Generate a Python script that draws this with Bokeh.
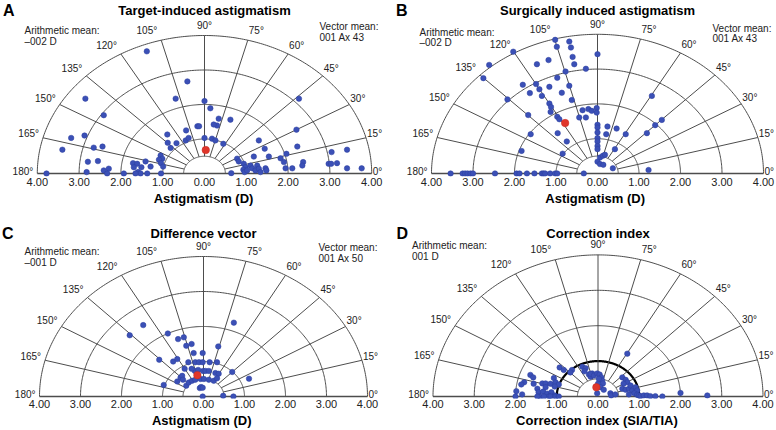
import numpy as np
from bokeh.plotting import figure
from bokeh.models import Range1d, FixedTicker, Label, LabelSet, ColumnDataSource
from bokeh.layouts import column, row
from bokeh.embed import file_html
from bokeh.resources import INLINE

# ---------------- data (astigmatism components, D) ----------------
tick_values = [-4, -3, -2, -1, 0, 1, 2, 3, 4]
tick_labels = ["4.00", "3.00", "2.00", "1.00", "0.00", "1.00", "2.00", "3.00", "4.00"]
angle_values = [0, 15, 30, 45, 60, 75, 90, 105, 120, 135, 150, 165, 180]
ring_radii = [0.5, 1, 2, 3, 4]

a_points = [(-1.38,3.54),(-0.41,2.67),(-0.69,2.17),(0.0,2.10),(-2.85,2.17),(-2.41,1.69),(-3.19,1.03),
    (-2.87,1.10),(-3.40,0.69),(-2.65,0.75),(-2.44,0.78),(-2.79,0.34),(-2.55,0.36),(-2.82,0.04),(-2.41,0.09),
    (-2.29,0.14),(-2.33,0.0),(-1.93,0.0),(-1.71,0.30),(-1.61,0.28),(-1.69,0.18),(-1.51,0.18),(-1.41,0.35),
    (-1.29,0.20),(-1.59,0.04),(-1.53,0.0),(-1.65,0.0),(-1.37,0.0),(-1.05,0.52),(-1.01,0.43),(-1.09,0.40),
    (-1.04,0.30),(-0.99,0.20),(-1.04,0.0),(-0.89,1.13),(-0.88,0.89),(-0.81,0.74),(-0.67,0.88),(-0.44,1.25),
    (-0.45,0.96),(-0.38,1.03),(-0.17,1.37),(-0.13,1.37),(0.0,1.03),(0.14,1.89),(0.34,1.59),(0.62,1.56),
    (0.30,1.39),(0.18,1.01),(0.26,0.96),(0.45,0.86),(2.26,2.17),(2.20,1.27),(1.30,0.96),(2.22,0.78),
    (1.96,0.57),(1.44,0.72),(1.54,0.49),(1.82,0.44),(1.18,0.49),(0.78,0.43),(0.82,0.35),(0.94,0.28),
    (0.98,0.18),(0.93,0.11),(0.96,0.04),(1.02,0.09),(1.10,0.23),(1.14,0.15),(1.26,0.23),(1.22,0.09),
    (1.30,0.14),(1.34,0.04),(0.64,0.01),(1.46,0.15),(1.48,0.09),(1.90,0.33),(1.94,0.15),(2.10,0.15),
    (2.36,0.33),(2.34,0.23),(3.04,0.62),(3.41,0.69),(2.97,0.28),(3.03,0.28),(3.17,0.30),(3.41,0.15),
    (3.76,0.15),(-3.78,0.0),(0.22,1.42)]
a_mean = (0.03, 0.68)

b_points = [(-1.02,3.84),(-0.98,3.64),(-0.68,3.79),(-0.64,3.62),(-0.60,3.35),(-0.56,3.14),(0.0,3.43),
    (-0.28,3.01),(-0.77,2.93),(-1.18,3.26),(-1.46,3.14),(-2.03,3.50),(-2.61,3.12),(-2.75,2.74),(-2.17,2.13),
    (-1.80,2.55),(-1.48,2.57),(-1.40,2.42),(-1.16,2.49),(-1.63,2.31),(-1.34,2.23),(-0.97,2.75),(-0.86,2.32),
    (-0.68,2.52),(-0.62,2.11),(-1.16,2.01),(-1.12,1.91),(-1.67,1.68),(-1.13,1.77),(-0.97,1.63),(-0.92,1.56),
    (-1.61,1.13),(-0.96,1.16),(-0.74,0.92),(-1.83,0.65),(-0.84,0.57),(-0.36,1.82),(-0.22,1.85),(-0.14,1.80),
    (-0.02,1.88),(-0.02,1.75),(-0.28,1.61),(-0.44,1.61),(0.0,1.40),(0.0,1.32),(0.0,1.18),(0.24,1.35),
    (0.46,1.29),(0.21,1.13),(0.68,1.13),(0.0,1.02),(0.0,0.92),(0.0,0.79),(0.0,0.70),(0.06,0.46),(0.13,0.51),
    (0.18,0.54),(0.0,0.34),(0.06,0.27),(0.14,0.25),(0.42,0.70),(0.37,0.15),(1.19,1.16),(1.39,1.39),
    (1.55,1.54),(1.31,2.23),(1.23,0.10),(-3.54,0.0),(-3.25,0.0),(-3.19,0.0),(-3.13,0.0),(-3.06,0.0),
    (-3.00,0.0),(-2.47,0.0),(-1.95,0.0),(-1.88,0.0),(-1.70,0.0),(-1.52,0.0),(-1.34,0.0),(-1.30,0.0),
    (-1.26,0.0),(-1.14,0.0),(-1.02,0.0),(-0.97,0.0),(-0.33,0.0)]
b_mean = (-0.78, 1.45)

c_points = [(-1.47,2.04),(-1.80,1.75),(0.74,2.11),(-0.87,1.80),(-0.62,1.64),(-0.48,1.69),(-0.42,1.45),
    (-0.29,1.50),(0.36,1.43),(-0.02,1.24),(-0.24,1.24),(-1.08,1.05),(-0.74,1.00),(-0.64,1.07),(-0.37,0.98),
    (-0.20,0.98),(-0.11,0.98),(-0.02,0.98),(0.15,0.98),(0.33,0.98),(-0.46,0.79),(-0.21,0.73),(-0.01,0.73),
    (0.05,0.73),(0.13,0.73),(0.29,0.67),(0.37,0.65),(0.70,0.70),(1.11,0.51),(-0.97,0.33),(-0.64,0.43),
    (-0.56,0.54),(-0.52,0.59),(-0.50,0.48),(-0.42,0.31),(-0.36,0.40),(-0.28,0.45),(-0.20,0.48),(-0.07,0.50),
    (0.01,0.50),(0.13,0.48),(0.25,0.45),(-0.09,0.24),(-0.06,0.27),(-0.02,0.25),(-0.02,0.0),(0.48,0.02),
    (0.73,0.0),(0.33,0.52),(-0.29,0.79),(-0.13,0.76)]
c_mean = (-0.15, 0.61)

d_points = [(0.71,1.21),(-0.93,0.82),(-0.83,0.75),(-0.63,0.75),(-0.67,0.68),(-0.38,0.84),(-0.30,0.80),
    (-0.33,0.71),(-0.22,0.62),(-0.14,0.65),(-0.18,0.56),(-1.64,0.61),(-1.57,0.54),(-1.79,0.40),(-1.86,0.34),
    (-1.56,0.36),(-1.35,0.37),(-1.27,0.37),(-1.15,0.36),(-1.07,0.52),(-1.03,0.40),(-0.95,0.34),(-1.05,0.28),
    (-1.27,0.26),(-1.47,0.22),(-1.44,0.12),(-1.33,0.14),(-1.23,0.08),(-1.13,0.12),(-1.05,0.03),(-1.19,0.0),
    (-1.15,0.0),(-1.03,0.0),(-0.95,0.0),(-1.41,0.0),(-1.84,0.06),(-1.98,0.15),(-2.0,0.0),(-1.47,0.0),
    (-1.31,0.0),(-0.18,0.64),(-0.10,0.59),(-0.02,0.65),(0.04,0.62),(0.08,0.54),(0.10,0.45),(0.12,0.37),
    (0.0,0.36),(0.06,0.26),(-0.02,0.09),(0.30,0.09),(0.14,0.19),(0.02,0.50),(0.59,0.54),(0.67,0.47),
    (0.71,0.40),(0.62,0.36),(0.59,0.22),(0.67,0.19),(0.75,0.22),(0.79,0.31),(0.83,0.17),(0.91,0.26),
    (0.95,0.17),(0.88,0.09),(0.95,0.05),(0.99,0.03),(1.03,0.01),(1.11,0.03),(1.19,0.03),(1.27,0.01),
    (1.39,0.01),(1.56,0.0),(2.0,0.10),(2.65,0.03),(0.32,0.03),(0.42,0.06),(0.75,0.06)]
d_mean = (-0.04, 0.26)

NB = "\u00a0"
panels = [
    dict(letter="A", title="Target-induced astigmatism", left=["Arithmetic mean:", "\u2013002 D"],
         right=["Vector mean:", "001 Ax 43"], xlabel="Astigmatism (D)", pts=a_points, mean=a_mean,
         thick=None, cx=204, base=173, xpx=41.8, ypx=34.5, fb=176, ty=30, ldx=-180, nb=5),
    dict(letter="B", title="Surgically induced astigmatism", left=["Arithmetic mean:", "\u2013002 D"],
         right=["Vector mean:", "001 Ax 43"], xlabel="Astigmatism (D)", pts=b_points, mean=b_mean,
         thick=None, cx=209, base=173, xpx=41.5, ypx=34.8, fb=176, ty=31.5, ldx=-178, nb=7),
    dict(letter="C", title="Difference vector", left=["Arithmetic mean:", "\u2013001 D"],
         right=["Vector mean:", "001 Ax 50"], xlabel="Astigmatism (D)", pts=c_points, mean=c_mean,
         thick=None, cx=203, base=181, xpx=41.0, ypx=35.0, fb=183, ty=36, ldx=-179, nb=4),
    dict(letter="D", title="Correction index", left=["Arithmetic mean:", "001 D"],
         right=None, xlabel="Correction index (SIA/TIA)", pts=d_points, mean=d_mean,
         thick=1, cx=209.5, base=181, xpx=41.25, ypx=35.4, fb=183, ty=30, ldx=-186, nb=8),
]

FONT = "Liberation Sans"
W, H = 388, 215
GRID = "#4d4d4d"
TXT = "#222222"


def make_panel(c):
    cx, base, xpx, ypx, fb = c["cx"], c["base"], c["xpx"], c["ypx"], c["fb"]
    X = lambda px: px / xpx                 # px offset from centre -> data
    Y = lambda fy: (base - fy) / ypx        # figure y (from top) -> data

    p = figure(width=W, height=H, output_backend="svg", toolbar_location=None,
               x_range=Range1d(-cx / xpx, (W - cx) / xpx),
               y_range=Range1d(-(fb - base) / ypx, base / ypx),
               y_axis_location=None,
               min_border_left=0, min_border_right=0, min_border_top=0,
               min_border_bottom=H - fb)
    p.grid.visible = False
    p.outline_line_color = None

    th = np.linspace(0, np.pi, 241)
    for r in ring_radii:
        p.line(r * np.cos(th), r * np.sin(th), line_color=GRID, line_width=1)
    if c["thick"] is not None:
        r = c["thick"]
        p.line(r * np.cos(th), r * np.sin(th), line_color="black", line_width=2.2)
    for a in angle_values[1:-1]:
        t = np.radians(a)
        p.line([0.5 * np.cos(t), 4 * np.cos(t)], [0.5 * np.sin(t), 4 * np.sin(t)],
               line_color=GRID, line_width=1)
    p.line([-4, 4], [0, 0], line_color=GRID, line_width=1.3)

    xs = [q[0] for q in c["pts"]]
    ys = [q[1] for q in c["pts"]]
    p.scatter(xs, ys, size=5.5, fill_color="#3b50b6", line_color="#2c3f9e", line_width=0.5)
    p.scatter([c["mean"][0]], [c["mean"][1]], size=7.5, fill_color="#e0362b", line_color="#c42a20",
              line_width=0.5)

    # angle labels just outside the outer ring
    for a in angle_values:
        t = np.radians(a)
        if a < 90:
            align, dx = "left", 1
        elif a > 90:
            align, dx = "right", -4
        else:
            align, dx = "center", 0
        dy = 2 + 8 * np.sin(t)
        p.add_layout(Label(x=4 * np.cos(t) + X(dx), y=4 * np.sin(t) + dy / ypx, text=f"{a}\u00b0",
                           text_font=FONT, text_font_size="10px", text_color=TXT,
                           text_align=align, text_baseline="middle"))

    p.add_layout(Label(x=X(-201.5), y=Y(base - 171.5), text=c["letter"], text_font=FONT,
                       text_font_size="16px", text_font_style="bold", text_align="left",
                       text_baseline="top", text_color="black"))
    p.add_layout(Label(x=0, y=Y(base - 163), text=c["title"], text_font=FONT, text_font_size="13px",
                       text_font_style="bold", text_align="center", text_baseline="middle",
                       text_color="black"))
    for i, s in enumerate(c["left"]):
        p.add_layout(Label(x=X(c["ldx"]), y=Y(c["ty"] + 10.5 * i), text=s, text_font=FONT,
                           text_font_size="10px", text_align="left", text_baseline="middle",
                           text_color=TXT))
    if c["right"]:
        for i, s in enumerate(c["right"]):
            p.add_layout(Label(x=X(115), y=Y(c["ty"] - 4 + 10.5 * i), text=s, text_font=FONT,
                               text_font_size="10px", text_align="left", text_baseline="middle",
                               text_color=TXT))

    ax = p.xaxis[0]
    ax.ticker = FixedTicker(ticks=tick_values)
    ax.major_label_overrides = {v: l for v, l in zip(tick_values, tick_labels)}
    ax.axis_line_color = None
    ax.major_tick_line_color = None
    ax.minor_tick_line_color = None
    ax.major_tick_out = 0
    ax.major_tick_in = 0
    ax.minor_tick_out = 0
    ax.minor_tick_in = 0
    ax.major_label_standoff = 1
    ax.major_label_text_font = FONT
    ax.major_label_text_font_size = "11px"
    ax.major_label_text_color = TXT
    # leading no-break spaces centre the title under the polar origin
    ax.axis_label = NB * c["nb"] + c["xlabel"]
    ax.axis_label_standoff = 2
    ax.axis_label_text_font = FONT
    ax.axis_label_text_font_size = "13px"
    ax.axis_label_text_font_style = "bold"
    ax.axis_label_text_color = "black"
    return p


figs = [make_panel(c) for c in panels]
layout = column(row(figs[0], figs[1]), row(figs[2], figs[3]))
open("out.html", "w").write(file_html(layout, INLINE))
